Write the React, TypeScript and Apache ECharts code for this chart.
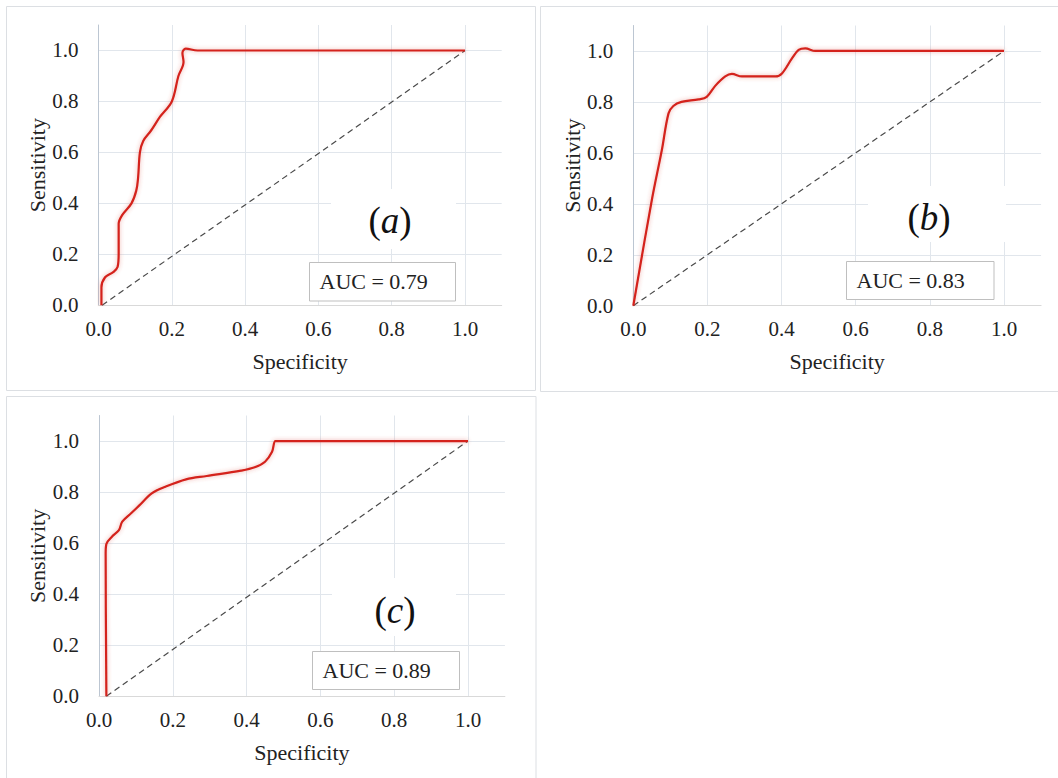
import React, { useEffect, useRef } from "react";
import * as echarts from "echarts";

// ROC curve points [specificity axis value, sensitivity]
const rocA: number[][] = [
  [0.008, 0], [0.008, 0.07], [0.018, 0.11], [0.04, 0.13], [0.052, 0.15], [0.055, 0.2],
  [0.055, 0.32], [0.065, 0.355], [0.09, 0.4], [0.103, 0.45], [0.108, 0.5], [0.113, 0.6],
  [0.122, 0.645], [0.143, 0.685], [0.168, 0.74], [0.2, 0.8], [0.218, 0.9], [0.232, 0.955],
  [0.229, 0.99], [0.238, 1.007], [0.27, 1.0], [1, 1],
];
const rocB: number[][] = [
  [0, 0], [0.05, 0.415], [0.077, 0.611], [0.095, 0.755], [0.108, 0.784], [0.13, 0.8],
  [0.176, 0.81], [0.198, 0.82], [0.221, 0.863], [0.248, 0.9], [0.266, 0.91], [0.293, 0.9],
  [0.383, 0.9], [0.401, 0.912], [0.428, 0.971], [0.446, 1.004], [0.464, 1.01], [0.491, 1.0],
  [1, 1],
];
const rocC: number[][] = [
  [0.02, 0], [0.018, 0.56], [0.02, 0.597], [0.035, 0.625], [0.054, 0.651], [0.063, 0.684],
  [0.087, 0.717], [0.11, 0.749], [0.143, 0.795], [0.18, 0.821], [0.236, 0.85], [0.292, 0.863],
  [0.385, 0.884], [0.422, 0.897], [0.45, 0.919], [0.469, 0.958], [0.478, 1.0], [0.49, 1.0],
  [1, 1],
];
const chanceA: number[][] = [[0.01, 0], [1, 1]];
const chanceB: number[][] = [[0, 0], [1, 1]];
const chanceC: number[][] = [[0.02, 0], [1, 1]];

const panelLetters = ["a", "b", "c"];
const aucLabels = ["AUC = 0.79", "AUC = 0.83", "AUC = 0.89"];
const xName = "Specificity";
const yName = "Sensitivity";

const FONT = "Liberation Serif";
const TXT = "#222";

export default function App() {
  const ref = useRef<HTMLDivElement>(null);
  useEffect(() => {
    if (!ref.current) return;
    const chart = echarts.init(ref.current, undefined, { renderer: "svg" });

    const grids = [
      { left: 98.5, top: 25, width: 403.2, height: 280.3 },
      { left: 633.3, top: 25.5, width: 407.8, height: 280.2 },
      { left: 99, top: 415.5, width: 405.9, height: 280.8 },
    ];
    const rocs = [rocA, rocB, rocC];
    const chances = [chanceA, chanceB, chanceC];

    const xAxes = grids.map((_, i) => ({
      type: "value",
      gridIndex: i,
      min: 0,
      max: 1.1,
      interval: 0.2,
      name: xName,
      nameLocation: "middle",
      nameGap: 45,
      nameTextStyle: { fontFamily: FONT, fontSize: 22, color: TXT },
      axisLine: { show: true, onZero: false, lineStyle: { color: "#d9d9d9", width: 1 } },
      axisTick: { show: false },
      axisLabel: {
        showMaxLabel: false,
        margin: 13,
        fontFamily: FONT,
        fontSize: 21,
        color: TXT,
        formatter: (v: number) => v.toFixed(1),
      },
      splitLine: { show: true, showMaxLine: false, showMinLine: false, lineStyle: { color: "#e1e6ec", width: 1 } },
    }));
    const yAxes = grids.map((_, i) => ({
      type: "value",
      gridIndex: i,
      min: 0,
      max: 1.1,
      interval: 0.2,
      name: yName,
      nameLocation: "middle",
      nameGap: 50,
      nameTextStyle: { fontFamily: FONT, fontSize: 22, color: TXT },
      axisLine: { show: true, lineStyle: { color: "#bcc6d2", width: 1 } },
      axisTick: { show: false },
      axisLabel: {
        showMaxLabel: false,
        margin: 20,
        fontFamily: FONT,
        fontSize: 21,
        color: TXT,
        formatter: (v: number) => v.toFixed(1),
      },
      splitLine: { show: true, showMaxLine: false, showMinLine: false, lineStyle: { color: "#e1e6ec", width: 1 } },
    }));

    const series: any[] = [];
    rocs.forEach((d, i) => {
      series.push({
        type: "line",
        xAxisIndex: i,
        yAxisIndex: i,
        data: chances[i],
        symbol: "none",
        lineStyle: { color: "#4a4a4a", width: 1.2, type: [6, 4] },
        z: 2,
      });
      series.push({
        type: "line",
        xAxisIndex: i,
        yAxisIndex: i,
        data: d,
        symbol: "none",
        smooth: 0.35,
        lineStyle: {
          color: "#d4211a",
          width: 2.2,
          shadowColor: "rgba(215,70,60,0.45)",
          shadowBlur: 4,
        },
        z: 3,
      });
    });

    const panelRects = [
      { x: 6.5, y: 6.5, width: 529, height: 384 },
      { x: 540.5, y: 6.5, width: 530, height: 385 },
      { x: 6.5, y: 396.5, width: 529.5, height: 390 },
    ];
    const letterBg = [
      { x: 331, y: 189, width: 125, height: 60 },
      { x: 868, y: 186, width: 138, height: 56 },
      { x: 332, y: 578, width: 124, height: 58 },
    ];
    const letterPos = [
      { x: 390, y: 220 },
      { x: 929, y: 217 },
      { x: 395, y: 610 },
    ];
    const aucBox = [
      { x: 309.5, y: 262.5, width: 146, height: 38.5 },
      { x: 846.5, y: 261.5, width: 147.5, height: 38 },
      { x: 312.5, y: 651.5, width: 147, height: 38 },
    ];

    const graphic: any[] = [];
    panelRects.forEach((r) =>
      graphic.push({ type: "rect", z: 0, shape: r, style: { fill: "none", stroke: "#dcdfe3", lineWidth: 1 } })
    );
    letterBg.forEach((r) =>
      graphic.push({ type: "rect", z: 1, shape: r, style: { fill: "#ffffff", stroke: "none" } })
    );
    letterPos.forEach((p, i) =>
      graphic.push({
        type: "text",
        z: 4,
        x: p.x,
        y: p.y,
        style: {
          text: `{p|(}{i|${panelLetters[i]}}{p|)}`,
          align: "center",
          verticalAlign: "middle",
          rich: {
            p: { fontFamily: FONT, fontSize: 37, fill: "#111", color: "#111" },
            i: { fontFamily: FONT, fontSize: 37, fontStyle: "italic", fill: "#111", color: "#111" },
          },
        },
      })
    );
    aucBox.forEach((r, i) => {
      graphic.push({ type: "rect", z: 4, shape: r, style: { fill: "#ffffff", stroke: "#bfbfbf", lineWidth: 1 } });
      graphic.push({
        type: "text",
        z: 5,
        x: r.x + 10,
        y: r.y + r.height / 2,
        style: {
          text: aucLabels[i],
          fontFamily: FONT,
          fontSize: 22,
          fill: TXT,
          align: "left",
          verticalAlign: "middle",
        },
      });
    });

    chart.setOption({
      animation: false,
      backgroundColor: "#ffffff",
      grid: grids.map((g) => ({ ...g, containLabel: false })),
      xAxis: xAxes,
      yAxis: yAxes,
      series,
      graphic,
    });
    return () => chart.dispose();
  }, []);
  return (
    <div
      ref={ref}
      style={{ position: "absolute", left: 0, top: 0, width: 1058, height: 778, background: "#fff" }}
    />
  );
}
